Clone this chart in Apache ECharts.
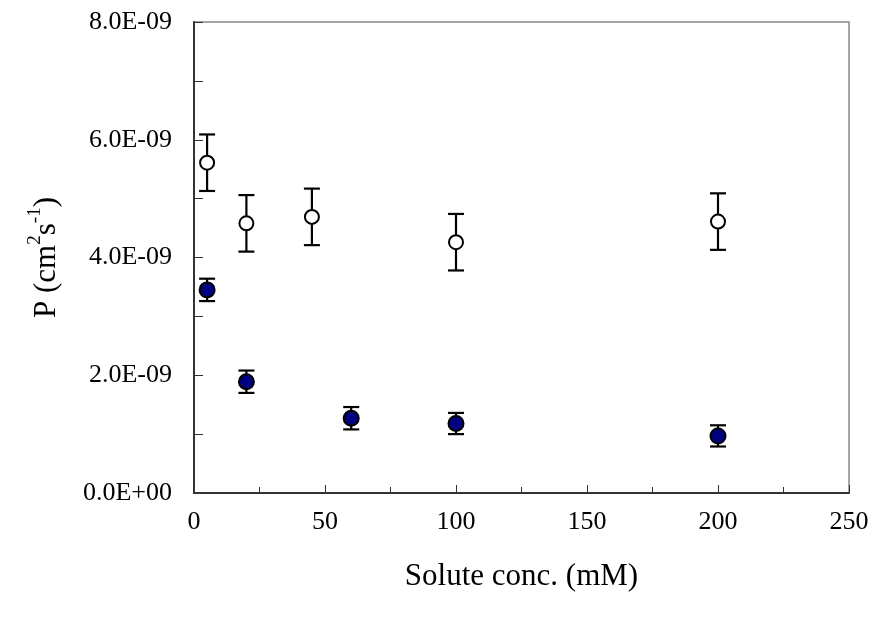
<!DOCTYPE html>
<html>
  <head>
    <meta charset="utf-8" />
    <title>Permeability vs solute concentration</title>
    <script src="https://cdn.jsdelivr.net/npm/echarts@6/dist/echarts.min.js"></script>
    <style>
      body {
        margin: 0;
        padding: 0;
        background: #fff;
      }
      #main {
        width: 872px;
        height: 619px;
      }
    </style>
  </head>
  <body>
    <div id="main"></div>
    <script type="text/javascript">
      // open circles (values in units of 1E-09)
      var openX = [5, 20, 45, 100, 200];
      var openY = [5.61, 4.58, 4.69, 4.26, 4.61];
      var openErr = [0.48, 0.48, 0.48, 0.48, 0.48];

      // filled circles
      var filledX = [5, 20, 60, 100, 200];
      var filledY = [3.45, 1.89, 1.27, 1.18, 0.97];
      var filledErr = [0.19, 0.19, 0.19, 0.18, 0.18];

      var xTicks = [0, 50, 100, 150, 200, 250];
      var yTicks = ["0.0E+00", "2.0E-09", "4.0E-09", "6.0E-09", "8.0E-09"];

      var font = "Liberation Serif";
      var myChart = echarts.init(document.getElementById("main"));

      function pairs(xs, ys) {
        return xs.map(function (x, i) {
          return [x, ys[i]];
        });
      }

      function errData(xs, ys, es) {
        return xs.map(function (x, i) {
          return [x, ys[i] - es[i], ys[i] + es[i]];
        });
      }

      // 误差线
      function renderErr(params, api) {
        var lo = api.coord([api.value(0), api.value(1)]);
        var hi = api.coord([api.value(0), api.value(2)]);
        var w = 8;
        var st = { stroke: "#000", lineWidth: 2.2 };
        return {
          type: "group",
          children: [
            { type: "line", shape: { x1: lo[0], y1: lo[1], x2: hi[0], y2: hi[1] }, style: st },
            { type: "line", shape: { x1: lo[0] - w, y1: lo[1], x2: lo[0] + w, y2: lo[1] }, style: st },
            { type: "line", shape: { x1: hi[0] - w, y1: hi[1], x2: hi[0] + w, y2: hi[1] }, style: st },
          ],
        };
      }

      var option = {
        animation: false,
        backgroundColor: "#fff",
        grid: {
          left: 194,
          top: 22,
          right: 23,
          bottom: 126,
          show: true,
          borderColor: "#888",
          borderWidth: 1.5,
        },
        xAxis: {
          type: "value",
          min: 0,
          max: 250,
          interval: 50,
          name: "Solute conc. (mM)",
          nameLocation: "middle",
          nameGap: 68,
          nameTextStyle: { fontFamily: font, fontSize: 31, color: "#000" },
          axisLine: { lineStyle: { color: "#333", width: 2 } },
          axisTick: { inside: true, length: 8, lineStyle: { color: "#333", width: 1 } },
          minorTick: { show: true, splitNumber: 2, length: 6, lineStyle: { color: "#333", width: 1 } },
          splitLine: { show: false },
          axisLabel: {
            margin: 16,
            fontFamily: font,
            fontSize: 26,
            color: "#000",
            formatter: function (v) {
              var i = xTicks.indexOf(v);
              return i >= 0 ? String(xTicks[i]) : "";
            },
          },
        },
        yAxis: {
          type: "value",
          min: 0,
          max: 8,
          interval: 2,
          name: "{a|P (cm}{s|2}{a|s}{s|-1}{a|)}",
          nameLocation: "middle",
          nameGap: 132,
          nameRotate: 90,
          nameTextStyle: {
            rich: {
              a: { fontFamily: font, fontSize: 31, color: "#000", lineHeight: 36, verticalAlign: "bottom" },
              s: { fontFamily: font, fontSize: 19, color: "#000", lineHeight: 22, verticalAlign: "top" },
            },
          },
          axisLine: { lineStyle: { color: "#333", width: 2 } },
          axisTick: { inside: true, length: 9, lineStyle: { color: "#333", width: 1 } },
          minorTick: { show: true, splitNumber: 2, length: 9, lineStyle: { color: "#333", width: 1 } },
          splitLine: { show: false },
          axisLabel: {
            margin: 22,
            fontFamily: font,
            fontSize: 26,
            color: "#000",
            formatter: function (v) {
              return yTicks[Math.round(v / 2)];
            },
          },
        },
        series: [
          {
            type: "custom",
            renderItem: renderErr,
            data: errData(openX, openY, openErr),
            z: 1,
          },
          {
            type: "custom",
            renderItem: renderErr,
            data: errData(filledX, filledY, filledErr),
            z: 1,
          },
          {
            type: "scatter",
            symbol: "circle",
            symbolSize: 14,
            data: pairs(openX, openY),
            itemStyle: { color: "#fff", borderColor: "#000", borderWidth: 2, opacity: 1 },
            z: 3,
          },
          {
            type: "scatter",
            symbol: "circle",
            symbolSize: 15,
            data: pairs(filledX, filledY),
            itemStyle: { color: "#000080", borderColor: "#000", borderWidth: 2, opacity: 1 },
            z: 3,
          },
        ],
      };

      myChart.setOption(option);
    </script>
  </body>
</html>
